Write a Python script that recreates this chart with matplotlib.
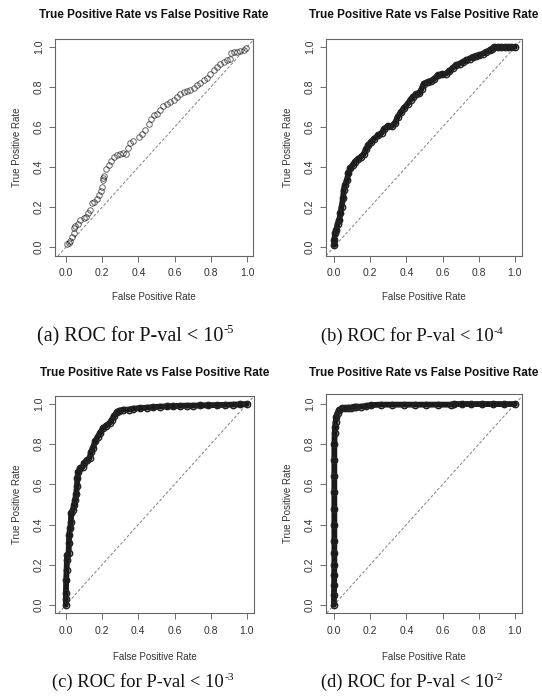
import matplotlib.pyplot as plt

plt.rcParams['font.family'] = ['Liberation Sans', 'DejaVu Sans']

W, H = 542, 698

# ROC points (FPR, TPR)
fpr_a = [0.006, 0.015, 0.024, 0.033, 0.042, 0.046, 0.052, 0.064, 0.079, 0.098, 0.112, 0.12,
         0.131, 0.144, 0.157, 0.171, 0.182, 0.193, 0.199, 0.204, 0.206, 0.208, 0.223, 0.236,
         0.249, 0.267, 0.282, 0.296, 0.315, 0.333, 0.341, 0.355, 0.37, 0.401, 0.42, 0.438,
         0.457, 0.47, 0.484, 0.503, 0.517, 0.536, 0.558, 0.576, 0.595, 0.613, 0.632, 0.65,
         0.668, 0.687, 0.705, 0.724, 0.742, 0.761, 0.779, 0.797, 0.816, 0.834, 0.853, 0.871,
         0.89, 0.904, 0.912, 0.926, 0.945, 0.963, 0.982, 0.996]
tpr_a = [0.013, 0.022, 0.032, 0.048, 0.068, 0.093, 0.105, 0.115, 0.135, 0.143, 0.148, 0.168,
         0.185, 0.218, 0.226, 0.238, 0.26, 0.281, 0.301, 0.334, 0.345, 0.354, 0.388, 0.409,
         0.431, 0.448, 0.458, 0.464, 0.471, 0.464, 0.493, 0.521, 0.531, 0.551, 0.567, 0.587,
         0.614, 0.642, 0.659, 0.667, 0.684, 0.704, 0.714, 0.725, 0.734, 0.75, 0.764, 0.775,
         0.78, 0.787, 0.797, 0.809, 0.82, 0.834, 0.847, 0.864, 0.884, 0.9, 0.913, 0.925,
         0.933, 0.94, 0.97, 0.973, 0.975, 0.98, 0.987, 0.997]

fpr_b = [0.002, 0.002, 0.006, 0.013, 0.02, 0.03, 0.035, 0.042, 0.05, 0.054, 0.061, 0.072,
         0.079, 0.09, 0.103, 0.116, 0.131, 0.149, 0.164, 0.177, 0.19, 0.205, 0.223, 0.245,
         0.264, 0.279, 0.297, 0.319, 0.338, 0.352, 0.371, 0.389, 0.408, 0.423, 0.435, 0.454,
         0.472, 0.485, 0.496, 0.518, 0.537, 0.555, 0.574, 0.596, 0.62, 0.638, 0.657, 0.675,
         0.694, 0.712, 0.731, 0.749, 0.768, 0.786, 0.804, 0.823, 0.841, 0.86, 0.873, 0.887,
         0.906, 0.925, 0.943, 0.962, 0.98, 1.0]
tpr_b = [0.01, 0.035, 0.068, 0.085, 0.115, 0.135, 0.168, 0.2, 0.243, 0.285, 0.31, 0.334,
         0.368, 0.393, 0.409, 0.426, 0.438, 0.451, 0.464, 0.488, 0.509, 0.526, 0.542, 0.559,
         0.571, 0.592, 0.604, 0.604, 0.621, 0.651, 0.676, 0.697, 0.717, 0.737, 0.75, 0.764,
         0.77, 0.792, 0.817, 0.825, 0.83, 0.842, 0.859, 0.864, 0.867, 0.88, 0.897, 0.908,
         0.917, 0.925, 0.933, 0.942, 0.95, 0.953, 0.958, 0.967, 0.975, 0.983, 0.992, 1.0,
         1.0, 1.0, 1.0, 1.0, 1.0, 1.0]

fpr_c = [0.0, 0.0, 0.0, 0.002, 0.004, 0.006, 0.009, 0.015, 0.017, 0.018, 0.024, 0.028,
         0.029, 0.039, 0.046, 0.051, 0.057, 0.061, 0.064, 0.068, 0.079, 0.094, 0.101, 0.116,
         0.131, 0.138, 0.149, 0.162, 0.175, 0.189, 0.204, 0.222, 0.241, 0.254, 0.267, 0.281,
         0.296, 0.318, 0.346, 0.373, 0.41, 0.447, 0.483, 0.52, 0.557, 0.594, 0.63, 0.667,
         0.704, 0.741, 0.787, 0.833, 0.879, 0.925, 0.962, 1.0]
tpr_c = [0.0, 0.03, 0.058, 0.125, 0.174, 0.224, 0.249, 0.257, 0.307, 0.349, 0.382, 0.415,
         0.457, 0.473, 0.498, 0.523, 0.553, 0.59, 0.631, 0.664, 0.681, 0.689, 0.706, 0.719,
         0.731, 0.759, 0.781, 0.814, 0.836, 0.855, 0.88, 0.892, 0.905, 0.922, 0.942, 0.958,
         0.967, 0.972, 0.972, 0.977, 0.98, 0.982, 0.985, 0.987, 0.988, 0.99, 0.991, 0.992,
         0.992, 0.993, 0.994, 0.995, 0.996, 0.997, 0.998, 1.0]

fpr_d = [0.0, 0.0, 0.001, 0.001, 0.002, 0.002, 0.002, 0.002, 0.002, 0.002, 0.002, 0.002,
         0.002, 0.004, 0.006, 0.009, 0.013, 0.02, 0.03, 0.042, 0.061, 0.078, 0.094, 0.108,
         0.122, 0.149, 0.177, 0.205, 0.26, 0.32, 0.389, 0.45, 0.51, 0.574, 0.646, 0.662,
         0.71, 0.758, 0.82, 0.88, 0.94, 1.0]
tpr_d = [0.0, 0.05, 0.1, 0.15, 0.2, 0.26, 0.32, 0.4, 0.48, 0.56, 0.64, 0.72,
         0.8, 0.854, 0.884, 0.912, 0.937, 0.957, 0.97, 0.978, 0.98, 0.982, 0.982, 0.985,
         0.987, 0.987, 0.99, 0.995, 0.997, 0.997, 0.997, 0.997, 0.997, 0.997, 0.997, 1.0,
         1.0, 1.0, 1.0, 1.0, 1.0, 1.0]

captions = ['(a) ROC for P-val < 10', '(b) ROC for P-val < 10',
            '(c) ROC for P-val < 10', '(d) ROC for P-val < 10']
exponents = ['-5', '-4', '-3', '-2']
ticks = [0.0, 0.2, 0.4, 0.6, 0.8, 1.0]
tick_labels = ['0.0', '0.2', '0.4', '0.6', '0.8', '1.0']

fig = plt.figure(figsize=(W / 100, H / 100), dpi=100)
renderer = fig.canvas.get_renderer()


def fx(x):
    return x / W


def fy(y):
    return 1 - y / H


# panel geometry in pixels: box left, right, top, bottom, and x/y limits
panels = [
    dict(box=(55, 253, 39, 256), xlim=(-0.061, 1.033), ylim=(-0.045, 1.04),
         data=(fpr_a, tpr_a), kind='open', title_y=15, xlab_y=297, cap=(135, 341, 14.5)),
    dict(box=(326, 522, 39, 256), xlim=(-0.044, 1.039), ylim=(-0.045, 1.04),
         data=(fpr_b, tpr_b), kind='band', title_y=15, xlab_y=297, cap=(412, 341, 13.3)),
    dict(box=(55, 254, 396, 613), xlim=(-0.06, 1.039), ylim=(-0.04, 1.04),
         data=(fpr_c, tpr_c), kind='band', title_y=373, xlab_y=657, cap=(143, 687, 13.3)),
    dict(box=(326, 522, 394, 613), xlim=(-0.044, 1.039), ylim=(-0.04, 1.05),
         data=(fpr_d, tpr_d), kind='band', title_y=373, xlab_y=657, cap=(412, 687, 13.3)),
]

for i, p in enumerate(panels):
    l, r, t, b = p['box']
    ax = fig.add_axes([fx(l), fy(b), (r - l) / W, (b - t) / H])
    x, y = p['data']
    ax.axline((0, 0), (1, 1), color='#808080', lw=0.7, dashes=(3, 2))
    if p['kind'] == 'open':
        ax.plot(x, y, 'o', ms=4.0, mfc='none', mec='black', mew=0.7, alpha=0.6)
    else:
        ax.plot(x, y, '-', color='#1a1a1a', lw=4.2, solid_capstyle='round',
                solid_joinstyle='round')
        ax.plot(x, y, 'o', ms=4.6, mfc='none', mec='#222222', mew=1.0)
    ax.set_xlim(*p['xlim'])
    ax.set_ylim(*p['ylim'])
    ax.set_xticks(ticks)
    ax.set_xticklabels(tick_labels)
    ax.set_yticks(ticks)
    ax.set_yticklabels(tick_labels, rotation=90, va='center')
    ax.tick_params(direction='out', length=4, width=0.6, color='#555555',
                   labelsize=7.5, labelcolor='#333333')
    ax.tick_params(axis='x', pad=5)
    ax.tick_params(axis='y', pad=4)
    for s in ax.spines.values():
        s.set_color('#666666')
        s.set_linewidth(0.8)

    cx = (l + r) / 2
    fig.text(fx(cx), fy(p['title_y']), 'True Positive Rate vs False Positive Rate',
             ha='center', va='center', fontsize=8.5, fontweight='bold', color='#111111')
    fig.text(fx(cx), fy(p['xlab_y']), 'False Positive Rate',
             ha='center', va='center', fontsize=7, color='#333333')
    fig.text(fx(l - 38), fy((t + b) / 2), 'True Positive Rate', rotation=90,
             ha='center', va='center', fontsize=7, color='#333333')

    # caption with a superscript exponent placed after the main text
    capx, capy, capfs = p['cap']
    main = fig.text(0, fy(capy), captions[i], ha='left', va='baseline',
                    fontsize=capfs, family='Liberation Serif', color='#111111')
    sup = fig.text(0, fy(capy - capfs * 0.55), exponents[i], ha='left', va='baseline',
                   fontsize=capfs * 0.62, family='Liberation Serif', color='#111111')
    wm = main.get_window_extent(renderer).width
    ws = sup.get_window_extent(renderer).width
    x0 = capx - (wm + ws) / 2
    main.set_x(fx(x0))
    sup.set_x(fx(x0 + wm + 0.5))

fig.savefig('out.png', dpi=100)
